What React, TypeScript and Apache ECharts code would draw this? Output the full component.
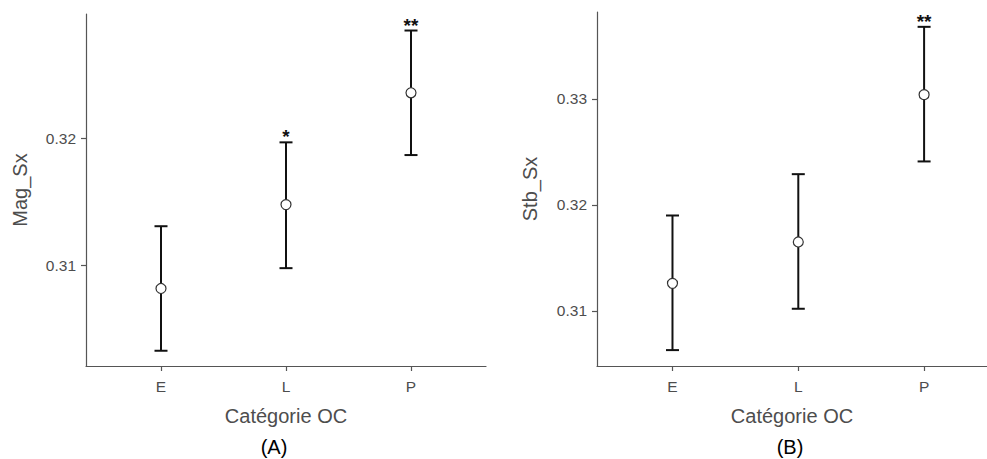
import React, { useEffect, useRef } from "react";
import * as echarts from "echarts";

const categories = ["E", "L", "P"];
const catPositions = [1, 2, 3];

const magMean = [0.3082, 0.3148, 0.3236];
const magLower = [0.3033, 0.3098, 0.3187];
const magUpper = [0.3131, 0.3197, 0.3285];
const magStars = ["", "*", "**"];
const magTicks = [0.31, 0.32];

const stbMean = [0.3126, 0.3165, 0.3304];
const stbLower = [0.3063, 0.3102, 0.3241];
const stbUpper = [0.319, 0.3229, 0.3368];
const stbStars = ["", "", "**"];
const stbTicks = [0.31, 0.32, 0.33];

const FONT = '"Liberation Sans", Arial, sans-serif';
const AXIS_COLOR = "#555555";
const TEXT_COLOR = "#4d4d4d";

function errorSeries(idx: number, lower: number[], upper: number[], stars: string[]) {
  return {
    type: "custom",
    xAxisIndex: idx,
    yAxisIndex: idx,
    data: catPositions.map((x, i) => [x, lower[i], upper[i]]),
    renderItem: (params: any, api: any) => {
      const x = api.value(0);
      const pLo = api.coord([x, api.value(1)]);
      const pHi = api.coord([x, api.value(2)]);
      const hw = 6.5;
      const style = { stroke: "#111111", lineWidth: 2 };
      const children: any[] = [
        { type: "line", shape: { x1: pLo[0], y1: pLo[1], x2: pHi[0], y2: pHi[1] }, style },
        { type: "line", shape: { x1: pLo[0] - hw, y1: pLo[1], x2: pLo[0] + hw, y2: pLo[1] }, style },
        { type: "line", shape: { x1: pHi[0] - hw, y1: pHi[1], x2: pHi[0] + hw, y2: pHi[1] }, style },
      ];
      const s = stars[params.dataIndex];
      if (s) {
        children.push({
          type: "text",
          x: pHi[0],
          y: pHi[1] + 4,
          style: {
            text: s,
            align: "center",
            verticalAlign: "bottom",
            font: `bold 19px ${FONT}`,
            fill: "#111111",
          },
        });
      }
      return { type: "group", children };
    },
    z: 2,
  };
}

function pointSeries(idx: number, mean: number[]) {
  return {
    type: "scatter",
    xAxisIndex: idx,
    yAxisIndex: idx,
    data: catPositions.map((x, i) => [x, mean[i]]),
    symbol: "circle",
    symbolSize: 10,
    itemStyle: { color: "#ffffff", borderColor: "#333333", borderWidth: 1.2, opacity: 1 },
    emphasis: { disabled: true },
    z: 3,
  };
}

function xAxis(idx: number, max: number) {
  return {
    type: "value",
    gridIndex: idx,
    min: 0.4,
    max,
    name: "Catégorie OC",
    nameLocation: "middle",
    nameGap: 40,
    nameTextStyle: { fontFamily: FONT, fontSize: 20, color: TEXT_COLOR },
    axisLine: { show: true, lineStyle: { color: AXIS_COLOR, width: 1.2 } },
    axisTick: { show: true, length: 5, customValues: catPositions, lineStyle: { color: AXIS_COLOR, width: 1.2 } },
    axisLabel: {
      customValues: catPositions,
      margin: 12,
      fontFamily: FONT,
      fontSize: 15.5,
      color: TEXT_COLOR,
      formatter: (v: number) => categories[Math.round(v) - 1] ?? "",
    },
    splitLine: { show: false },
  };
}

function yAxis(idx: number, name: string, min: number, max: number, ticks: number[], gap: number) {
  return {
    type: "value",
    gridIndex: idx,
    min,
    max,
    name,
    nameLocation: "middle",
    nameGap: gap,
    nameRotate: 90,
    nameTextStyle: { fontFamily: FONT, fontSize: 20, color: TEXT_COLOR },
    axisLine: { show: true, lineStyle: { color: AXIS_COLOR, width: 1.2 } },
    axisTick: { show: true, length: 5, customValues: ticks, lineStyle: { color: AXIS_COLOR, width: 1.2 } },
    axisLabel: {
      customValues: ticks,
      margin: 10,
      fontFamily: FONT,
      fontSize: 15.5,
      color: TEXT_COLOR,
      formatter: (v: number) => v.toFixed(2),
    },
    splitLine: { show: false },
  };
}

export default function App() {
  const ref = useRef<HTMLDivElement>(null);
  useEffect(() => {
    if (!ref.current) return;
    const chart = echarts.init(ref.current, null, { renderer: "svg" });
    chart.setOption({
      animation: false,
      backgroundColor: "#ffffff",
      title: [
        {
          text: "(A)",
          left: 269,
          top: 432,
          textAlign: "center",
          textStyle: { fontFamily: FONT, fontSize: 20, fontWeight: "normal", color: "#000000" },
        },
        {
          text: "(B)",
          left: 785,
          top: 432,
          textAlign: "center",
          textStyle: { fontFamily: FONT, fontSize: 20, fontWeight: "normal", color: "#000000" },
        },
      ],
      grid: [
        { left: 86, top: 14, width: 400, height: 352 },
        { left: 597, top: 12, width: 390, height: 354 },
      ],
      xAxis: [xAxis(0, 3.6), xAxis(1, 3.5)],
      yAxis: [
        yAxis(0, "Mag_Sx", 0.3021, 0.3298, magTicks, 56),
        yAxis(1, "Stb_Sx", 0.3048, 0.3382, stbTicks, 57),
      ],
      series: [
        errorSeries(0, magLower, magUpper, magStars),
        pointSeries(0, magMean),
        errorSeries(1, stbLower, stbUpper, stbStars),
        pointSeries(1, stbMean),
      ],
    });
    return () => chart.dispose();
  }, []);
  return (
    <div
      ref={ref}
      style={{ position: "absolute", left: 0, top: 0, width: 987, height: 459 }}
    />
  );
}
